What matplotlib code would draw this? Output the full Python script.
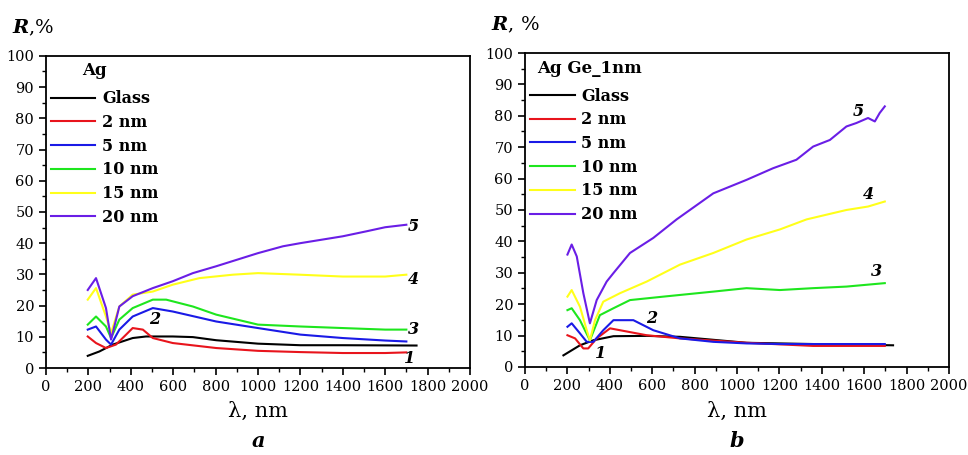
import numpy as np
import matplotlib.pyplot as plt

plt.rcParams['font.family'] = 'DejaVu Serif'
plt.rcParams['mathtext.fontset'] = 'dejavuserif'

labels = ['Glass', '2 nm', '5 nm', '10 nm', '15 nm', '20 nm']
colors = ['#000000', '#e8141c', '#1a1ae6', '#1ee61e', '#ffff1a', '#6a1ee6']

# ---- panel a: Ag ----
a_glass_x = [197, 252, 315, 409, 472, 598, 693, 803, 1000, 1200, 1400, 1748]
a_glass_y = [3.9, 5.3, 7.5, 9.6, 10.1, 10.1, 9.9, 8.9, 7.8, 7.3, 7.3, 7.2]
a_2nm_x = [197, 236, 283, 330, 378, 409, 457, 504, 598, 803, 1000, 1200, 1400, 1600, 1700]
a_2nm_y = [10.1, 8.0, 6.4, 7.5, 10.7, 12.8, 12.3, 9.6, 8.0, 6.4, 5.5, 5.1, 4.8, 4.8, 5.0]
a_5nm_x = [197, 236, 283, 307, 346, 409, 504, 598, 803, 1000, 1200, 1400, 1600, 1700]
a_5nm_y = [12.3, 13.3, 9.1, 7.5, 12.3, 16.5, 19.2, 18.1, 14.9, 12.8, 10.7, 9.6, 8.8, 8.5]
a_10nm_x = [197, 236, 283, 307, 346, 409, 504, 567, 693, 803, 1000, 1200, 1400, 1600, 1700]
a_10nm_y = [13.9, 16.5, 13.3, 9.6, 15.5, 19.2, 21.9, 21.9, 19.7, 17.1, 13.9, 13.3, 12.8, 12.3, 12.3]
a_15nm_x = [197, 236, 283, 307, 346, 409, 504, 598, 724, 882, 1000, 1195, 1400, 1600, 1700]
a_15nm_y = [21.9, 25.6, 16.5, 11.2, 19.7, 23.5, 24.5, 26.7, 28.8, 29.9, 30.4, 29.9, 29.3, 29.3, 29.9]
a_20nm_x = [197, 236, 283, 307, 346, 409, 504, 598, 693, 803, 1000, 1118, 1200, 1400, 1512, 1600, 1700]
a_20nm_y = [25.0, 28.8, 19.2, 9.1, 19.7, 23.0, 25.6, 27.8, 30.4, 32.6, 36.8, 39.0, 40.0, 42.2, 43.8, 45.1, 45.9]

# ---- panel b: Ag Ge_1nm ----
b_glass_x = [181, 259, 322, 417, 574, 731, 1045, 1359, 1736]
b_glass_y = [3.7, 6.9, 8.5, 9.8, 9.9, 9.6, 7.7, 7.3, 6.9]
b_2nm_x = [200, 236, 275, 298, 338, 401, 448, 574, 731, 1045, 1359, 1697]
b_2nm_y = [10.1, 9.1, 5.9, 5.9, 9.1, 12.3, 11.7, 10.1, 9.1, 7.7, 6.7, 6.7]
b_5nm_x = [200, 220, 259, 291, 322, 369, 417, 511, 605, 731, 888, 1045, 1202, 1697]
b_5nm_y = [12.8, 13.9, 10.7, 8.0, 8.0, 11.7, 14.9, 14.9, 11.7, 9.1, 8.0, 7.5, 7.3, 7.3]
b_10nm_x = [200, 220, 259, 306, 353, 417, 495, 652, 888, 1045, 1202, 1359, 1516, 1697]
b_10nm_y = [18.1, 18.7, 14.9, 8.5, 16.5, 18.7, 21.3, 22.4, 24.0, 25.1, 24.5, 25.1, 25.6, 26.7]
b_15nm_x = [200, 220, 259, 291, 306, 330, 369, 448, 574, 731, 888, 1045, 1202, 1328, 1516, 1618, 1697]
b_15nm_y = [22.4, 24.5, 19.2, 11.7, 8.5, 14.9, 20.8, 23.5, 27.2, 32.6, 36.3, 40.6, 43.8, 47.0, 50.0, 51.1, 52.7]
b_20nm_x = [200, 220, 244, 275, 306, 338, 385, 417, 495, 605, 715, 888, 1045, 1170, 1280,
            1359, 1438, 1516, 1563, 1618, 1650, 1673, 1697]
b_20nm_y = [35.8, 39.0, 35.2, 23.5, 13.9, 21.3, 27.2, 29.9, 36.3, 41.1, 47.0, 55.3, 59.6, 63.3, 66.0,
            70.2, 72.3, 76.6, 77.7, 79.3, 78.2, 80.9, 83.0]

a_series = [(a_glass_x, a_glass_y), (a_2nm_x, a_2nm_y), (a_5nm_x, a_5nm_y),
            (a_10nm_x, a_10nm_y), (a_15nm_x, a_15nm_y), (a_20nm_x, a_20nm_y)]
b_series = [(b_glass_x, b_glass_y), (b_2nm_x, b_2nm_y), (b_5nm_x, b_5nm_y),
            (b_10nm_x, b_10nm_y), (b_15nm_x, b_15nm_y), (b_20nm_x, b_20nm_y)]

# curve numbers (x, y, text)
a_marks = [(1716, 3.2, '1'), (512, 15.5, '2'), (1732, 12.3, '3'), (1732, 28.3, '4'), (1732, 45.4, '5')]
b_marks = [(354, 4.3, '1'), (597, 15.5, '2'), (1660, 30.4, '3'), (1618, 54.8, '4'), (1571, 81.4, '5')]

fig = plt.figure(figsize=(9.68, 4.55), dpi=100)
ax_a = fig.add_axes([0.0475, 0.1912, 0.438, 0.686])
ax_b = fig.add_axes([0.5424, 0.1935, 0.438, 0.690])


def draw(ax, series, marks, title, title_x, letter, ylab):
    lines = []
    for (x, y), c, lab in zip(series, colors, labels):
        l, = ax.plot(x, y, color=c, lw=1.5, label=lab)
        lines.append(l)
    for x, y, t in marks:
        ax.text(x, y, t, fontsize=11.5, style='italic', fontweight='bold',
                ha='center', va='center')
    ax.set_xlim(0, 2000)
    ax.set_ylim(0, 100)
    ax.set_xticks(np.arange(0, 2001, 200))
    ax.set_xticks(np.arange(0, 2001, 100), minor=True)
    ax.set_yticks(np.arange(0, 101, 10))
    ax.set_yticks(np.arange(0, 101, 5), minor=True)
    ax.tick_params(which='both', direction='out', top=False, right=False, labelsize=10.5)
    ax.tick_params(which='major', length=5, width=1.2)
    ax.tick_params(which='minor', length=3, width=1)
    for s in ax.spines.values():
        s.set_linewidth(1.3)
    ax.legend(handles=lines, loc='upper left', bbox_to_anchor=(0.0, 0.905),
              frameon=False, prop={'size': 11.5, 'weight': 'bold'},
              handlelength=2.8, labelspacing=0.42, borderaxespad=0.0,
              borderpad=0.3, handletextpad=0.4)
    ax.text(title_x, 0.952, title, transform=ax.transAxes, ha='left', va='center',
            fontsize=12, fontweight='bold')
    ax.text(0.5, -0.14, '\u03bb, nm', transform=ax.transAxes, ha='center',
            va='center', fontsize=15)
    ax.text(0.5, -0.235, letter, transform=ax.transAxes, ha='center', va='center',
            fontsize=15, style='italic', fontweight='bold')
    ax.text(-0.08, 1.09, ylab, transform=ax.transAxes, ha='left', va='center',
            fontsize=14)


draw(ax_a, a_series, a_marks, 'Ag', 0.085, 'a', r'$\boldsymbol{R}$,%')
draw(ax_b, b_series, b_marks, 'Ag Ge_1nm', 0.028, 'b', r'$\boldsymbol{R}$, %')

fig.savefig('out.png', dpi=100)
